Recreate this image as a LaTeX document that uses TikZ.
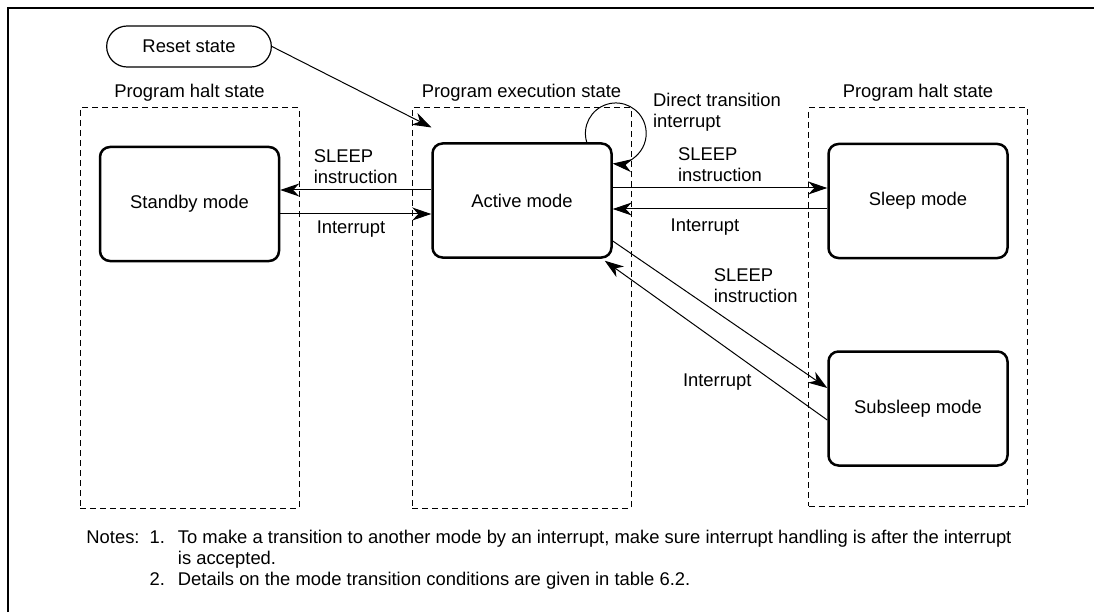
\documentclass[tikz,border=0pt]{standalone}
\usepackage{fontspec}
\setmainfont{Liberation Sans}
\usepackage{tikz}
\usetikzlibrary{arrows.meta,positioning,shapes.misc}
\newcommand{\diafont}{\fontsize{9.2pt}{10.5pt}\selectfont}

\begin{document}
\begin{tikzpicture}[x=0.5pt,y=0.5pt,
  modebox/.style={draw, line width=1.25pt, rounded corners=5pt, minimum width=89.5pt, minimum height=57pt, font=\diafont},
  statebox/.style={draw, dashed, dash pattern=on 3pt off 2pt, line width=0.5pt, minimum width=109.5pt, minimum height=200pt},
  lbl/.style={font=\diafont, align=left, inner sep=2pt},
  arr/.style={-{Stealth[length=9.5pt,width=6.5pt,inset=3pt]}, line width=0.5pt}]
\useasboundingbox (0,0) rectangle (1094,612);
% frame
\draw[line width=1pt] (8,0) -- (8,604) -- (1094,604);
% regions
\node[statebox] (halta) at (189.5,304) {};
\node[statebox] (exec) at (521.5,304) {};
\node[statebox, minimum height=199pt] (haltb) at (918,305) {};
\node[lbl, above=1pt of halta] (haltalbl) {Program halt state};
\node[lbl, above=1pt of exec] (execlbl) {Program execution state};
\node[lbl, above=1pt of haltb] (haltblbl) {Program halt state};
% modes
\node[draw, rounded rectangle, line width=0.6pt, minimum width=89pt, minimum height=20.5pt, font=\diafont] (reset) at (189,565.5) {Reset state};
\node[modebox] (standby) at (189.5,408) {Standby mode};
\node[modebox] (active) at (522,411.5) {Active mode};
\node[modebox] (sleep) at (918,411) {Sleep mode};
\node[modebox] (subsleep) at (918,203.5) {Subsleep mode};
\coordinate (entry) at ([shift={(10pt,-10pt)}]exec.north west);
% transitions
\draw[arr] (reset.east) -- (entry);
\draw[arr] ([yshift=5.25pt]active.west) -- ([yshift=5.25pt]active.west -| standby.east)
  node[lbl, pos=0.5, above=1pt] {SLEEP\\instruction};
\draw[arr] ([yshift=-6.75pt]active.west -| standby.east) -- ([yshift=-6.75pt]active.west)
  node[lbl, pos=0, below right=1pt and 16pt] {Interrupt};
\draw[arr] ([yshift=6.25pt]active.east) -- ([yshift=6.25pt]active.east -| sleep.west)
  node[lbl, pos=0.5, above=1pt] {SLEEP\\instruction};
\draw[arr] ([yshift=-4pt]sleep.west) -- ([yshift=-4pt]sleep.west -| active.east)
  node[lbl, pos=0.57, below=2.5pt] {Interrupt};
\draw[arr] ([yshift=-20.25pt]active.east) -- ([yshift=10.25pt]subsleep.west)
  node[lbl, pos=0.45, above right] {SLEEP\\instruction};
\draw[arr] ([yshift=-5.75pt]subsleep.west) -- ([shift={(-4pt,-1pt)}]active.south east)
  node[lbl, pos=0.32, below left] {Interrupt};
\draw[arr] ([xshift=-13pt]active.north east) arc[start angle=197, end angle=-96, radius=15.2pt];
\node[lbl, anchor=west] (dtlbl) at ([shift={(18pt,15.25pt)}]active.north east) {Direct transition\\interrupt};
% notes
\node[lbl, anchor=base west, inner sep=0pt] (notes) at (86,68.5) {\begin{tabular}[t]{@{}l@{\hspace{5pt}}l@{\hspace{6.5pt}}l@{}}
Notes: & 1. & To make a transition to another mode by an interrupt, make sure interrupt handling is after the interrupt\\
 & & is accepted.\\
 & 2. & Details on the mode transition conditions are given in table 6.2.
\end{tabular}};
\end{tikzpicture}
\end{document}
